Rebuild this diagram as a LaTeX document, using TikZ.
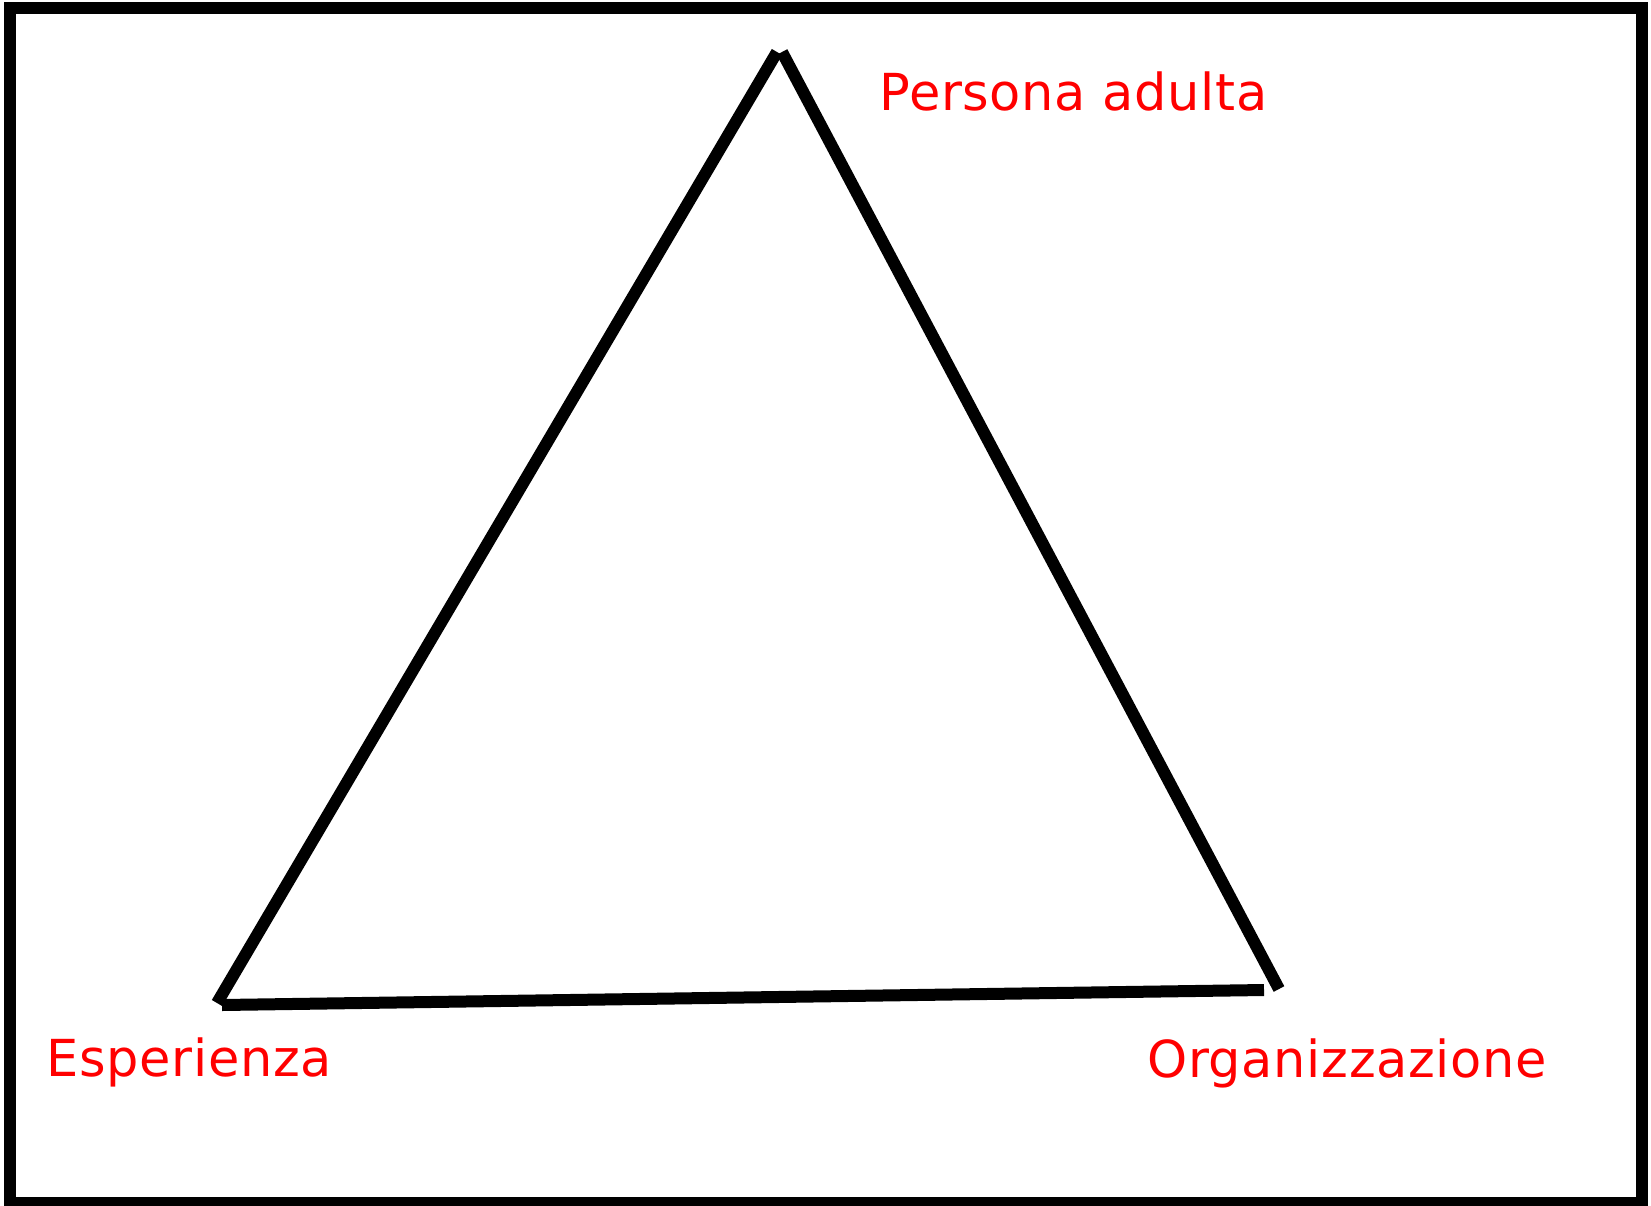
\documentclass[tikz,border=0pt]{standalone}
\usepackage{fontspec}
\setmainfont{DejaVu Sans}[LetterSpace=1.3]
\begin{document}
\begin{tikzpicture}[x=0.5pt,y=-0.5pt,
  frame/.style={draw=black,line width=6pt},
  edge/.style={draw=black,line width=6pt,line cap=butt},
  lbl/.style={text=red,font=\fontsize{25.5pt}{30pt}\selectfont,inner sep=0pt,anchor=base west}]
\useasboundingbox (0,0) rectangle (1651,1206);
\draw[frame] (10,8) rectangle (1642,1203);
% vertices
\coordinate (topL) at (777,52);
\coordinate (topR) at (782,52);
\coordinate (botL1) at (217,1003);
\coordinate (botL2) at (222,1005);
\coordinate (botR1) at (1264,990);
\coordinate (botR2) at (1279,989);
\draw[edge] (botL1) -- (topL);
\draw[edge] (topR) -- (botR2);
\draw[edge] (botL2) -- (botR1);
% labels
\node[lbl] (persona) at (879,110) {Persona adulta};
\node[lbl] (esperienza) at (46,1076) {Esperienza};
\node[lbl] (organizzazione) at (1147,1077) {Organizzazione};
\end{tikzpicture}
\end{document}
